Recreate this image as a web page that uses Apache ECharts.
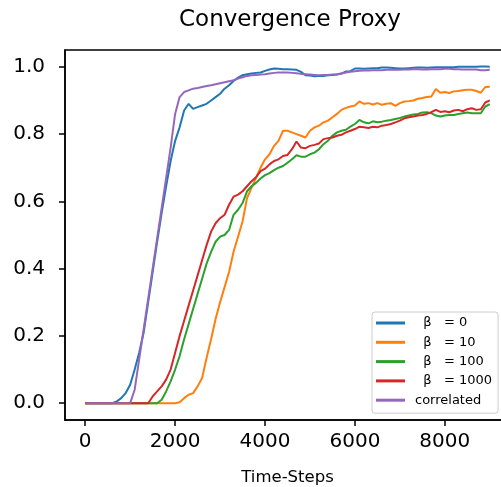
<!DOCTYPE html>
<html>
<head>
<meta charset="utf-8">
<script src="https://cdn.jsdelivr.net/npm/echarts@6/dist/echarts.min.js"></script>
<style>
html,body{margin:0;padding:0;background:#fff;}
#chart{width:501px;height:487px;}
</style>
</head>
<body>
<div id="chart"></div>
<script>
const timeSteps = [0,100,200,300,400,500,600,700,800,900,1000,1100,1200,1300,1400,1500,1600,1700,1800,1900,2000,2100,2200,2300,2400,2500,2600,2700,2800,2900,3000,3100,3200,3300,3400,3500,3600,3700,3800,3900,4000,4100,4200,4300,4400,4500,4600,4700,4800,4900,5000,5100,5200,5300,5400,5500,5600,5700,5800,5900,6000,6100,6200,6300,6400,6500,6600,6700,6800,6900,7000,7100,7200,7300,7400,7500,7600,7700,7800,7900,8000,8100,8200,8300,8400,8500,8600,8700,8800,8900,9000];

const beta0 = [0,0,0,0,0,0,0,
 0.005,0.015,0.03,0.055,0.10,0.15,0.21,0.30,0.39,0.48,0.565,0.645,0.72,0.78,0.82,0.87,0.89,0.875,0.88,0.885,0.89,0.90,0.91,0.92,
 0.935,0.945,0.958,0.968,0.975,0.978,0.98,0.982,0.983,0.988,0.992,0.995,0.994,0.993,0.993,0.992,0.991,0.985,0.975,0.974,
 0.972,0.973,0.973,0.975,0.976,0.977,0.98,0.986,0.987,0.995,0.995,0.994,0.995,0.996,0.996,0.998,0.998,0.997,0.996,0.995,
 0.995,0.996,0.997,0.998,0.998,0.997,0.998,0.999,0.999,0.999,0.999,0.999,1.0,1.0,1.0,1.0,1.0,1.001,1.001,1.0];

const beta10 = [0,0,0,0,0,0,0,0,0,0,0,0,0,0,0,0,0,0,0,0,0,
 0.003,0.015,0.025,0.03,0.05,0.075,0.135,0.19,0.25,0.30,
 0.345,0.39,0.45,0.495,0.54,0.61,0.64,0.67,0.70,0.725,
 0.74,0.765,0.78,0.81,0.81,0.805,0.80,0.795,0.79,0.81,
 0.82,0.825,0.835,0.84,0.85,0.86,0.872,0.878,0.882,0.885,
 0.897,0.89,0.892,0.888,0.892,0.887,0.89,0.892,0.884,0.892,
 0.897,0.898,0.90,0.905,0.907,0.91,0.912,0.934,0.923,0.925,
 0.922,0.927,0.928,0.93,0.932,0.932,0.928,0.923,0.94,0.941];

const beta100 = [0,0,0,0,0,0,0,0,0,0,0,0,0,0,0,0,0,
 0.01,0.035,0.065,0.10,
 0.14,0.19,0.235,0.28,0.325,0.37,0.415,0.45,0.48,0.495,
 0.50,0.515,0.56,0.575,0.595,0.63,0.645,0.655,0.668,0.678,
 0.684,0.693,0.70,0.705,0.715,0.725,0.737,0.733,0.733,0.74,
 0.745,0.755,0.77,0.78,0.795,0.805,0.81,0.813,0.822,0.83,
 0.842,0.835,0.832,0.838,0.835,0.837,0.84,0.842,0.845,0.848,
 0.852,0.855,0.858,0.86,0.864,0.865,0.862,0.855,0.852,0.855,
 0.857,0.857,0.86,0.862,0.864,0.862,0.862,0.862,0.882,0.889];

const beta1000 = [0,0,0,0,0,0,0,0,0,0,0,0,0,0,0,
 0.02,0.035,0.05,0.07,0.10,0.15,
 0.20,0.245,0.29,0.335,0.38,0.425,0.47,0.51,0.535,0.55,
 0.56,0.59,0.614,0.62,0.63,0.645,0.66,0.672,0.69,0.697,
 0.71,0.72,0.725,0.735,0.738,0.755,0.778,0.76,0.758,0.765,
 0.768,0.772,0.785,0.788,0.79,0.795,0.798,0.805,0.81,0.815,
 0.822,0.82,0.818,0.822,0.82,0.825,0.827,0.83,0.835,0.84,
 0.847,0.85,0.852,0.855,0.857,0.86,0.865,0.872,0.866,0.868,
 0.865,0.87,0.872,0.868,0.874,0.877,0.872,0.874,0.894,0.90];

const correlated = [0,0,0,0,0,0,0,0,0,0,0,
 0.04,0.13,0.22,0.31,0.40,0.49,0.58,0.67,0.76,0.86,
 0.91,0.925,0.93,0.935,0.937,0.94,0.943,0.945,0.948,0.951,
 0.954,0.957,0.96,0.965,0.969,0.973,0.975,0.976,0.977,0.978,
 0.98,0.982,0.983,0.983,0.983,0.982,0.981,0.979,0.978,0.977,
 0.976,0.975,0.976,0.976,0.977,0.978,0.98,0.983,0.985,0.987,
 0.988,0.989,0.989,0.99,0.99,0.99,0.991,0.991,0.991,0.991,
 0.992,0.992,0.993,0.993,0.992,0.992,0.993,0.993,0.993,0.994,
 0.994,0.993,0.993,0.992,0.992,0.992,0.992,0.99,0.99,0.991];

const seriesNames = ['  \u03b2   = 0', '  \u03b2   = 10', '  \u03b2   = 100', '  \u03b2   = 1000', 'correlated'];
const seriesValues = [beta0, beta10, beta100, beta1000, correlated];
const seriesColors = ['#1f77b4', '#ff7f0e', '#2ca02c', '#d62728', '#9467bd'];
const xTicks = [0, 2000, 4000, 6000, 8000];
const yTicks = [0, 0.2, 0.4, 0.6, 0.8, 1.0];

const FONT = 'DejaVu Sans';
const chart = echarts.init(document.getElementById('chart'), null, {renderer: 'canvas'});

const option = {
  animation: false,
  backgroundColor: '#fff',
  textStyle: {fontFamily: FONT},
  title: {
    text: 'Convergence Proxy',
    left: 285,
    textAlign: 'center',
    top: 4,
    textStyle: {fontFamily: FONT, fontSize: 23, fontWeight: 'normal', color: '#000'}
  },
  grid: {
    left: 65, top: 50, width: 445, height: 370,
    containLabel: false,
    outerBoundsMode: 'none',
    show: true, borderColor: '#000', borderWidth: 1.5, backgroundColor: 'transparent'
  },
  xAxis: {
    type: 'value', min: -450, max: 9450,
    name: 'Time-Steps', nameLocation: 'middle', nameGap: 49,
    nameTextStyle: {fontFamily: FONT, fontSize: 16.5, color: '#000'},
    axisLine: {show: true, onZero: false, lineStyle: {color: '#000', width: 1.5}},
    axisTick: {show: true, length: 6, lineStyle: {color: '#000', width: 1.5}, customValues: xTicks},
    axisLabel: {fontFamily: FONT, fontSize: 20, color: '#000', margin: 12, customValues: xTicks,
      formatter: v => String(Math.round(v))},
    splitLine: {show: false}
  },
  yAxis: {
    type: 'value', min: -0.05, max: 1.05,
    axisLine: {show: true, onZero: false, lineStyle: {color: '#000', width: 1.5}},
    axisTick: {show: true, length: 6, lineStyle: {color: '#000', width: 1.5}, customValues: yTicks},
    axisLabel: {fontFamily: FONT, fontSize: 20, color: '#000', margin: 20, customValues: yTicks,
      formatter: v => v.toFixed(1)},
    splitLine: {show: false}
  },
  legend: {
    orient: 'vertical',
    left: 372, top: 312,
    padding: [4, 6, 6, 4],
    icon: 'rect',
    itemWidth: 29, itemHeight: 3, itemGap: 5.3,
    backgroundColor: 'rgba(255,255,255,0.8)',
    borderColor: '#ccc', borderWidth: 1, borderRadius: 3,
    textStyle: {fontFamily: FONT, fontSize: 13, color: '#000', lineHeight: 14, padding: [0, 0, 0, 5]},
    data: seriesNames
  },
  series: seriesNames.map((name, k) => ({
    name: name,
    type: 'line',
    symbol: 'none',
    showSymbol: false,
    color: seriesColors[k],
    lineStyle: {color: seriesColors[k], width: 2},
    data: timeSteps.map((t, i) => [t, seriesValues[k][i]])
  }))
};
chart.setOption(option);
</script>
</body>
</html>
